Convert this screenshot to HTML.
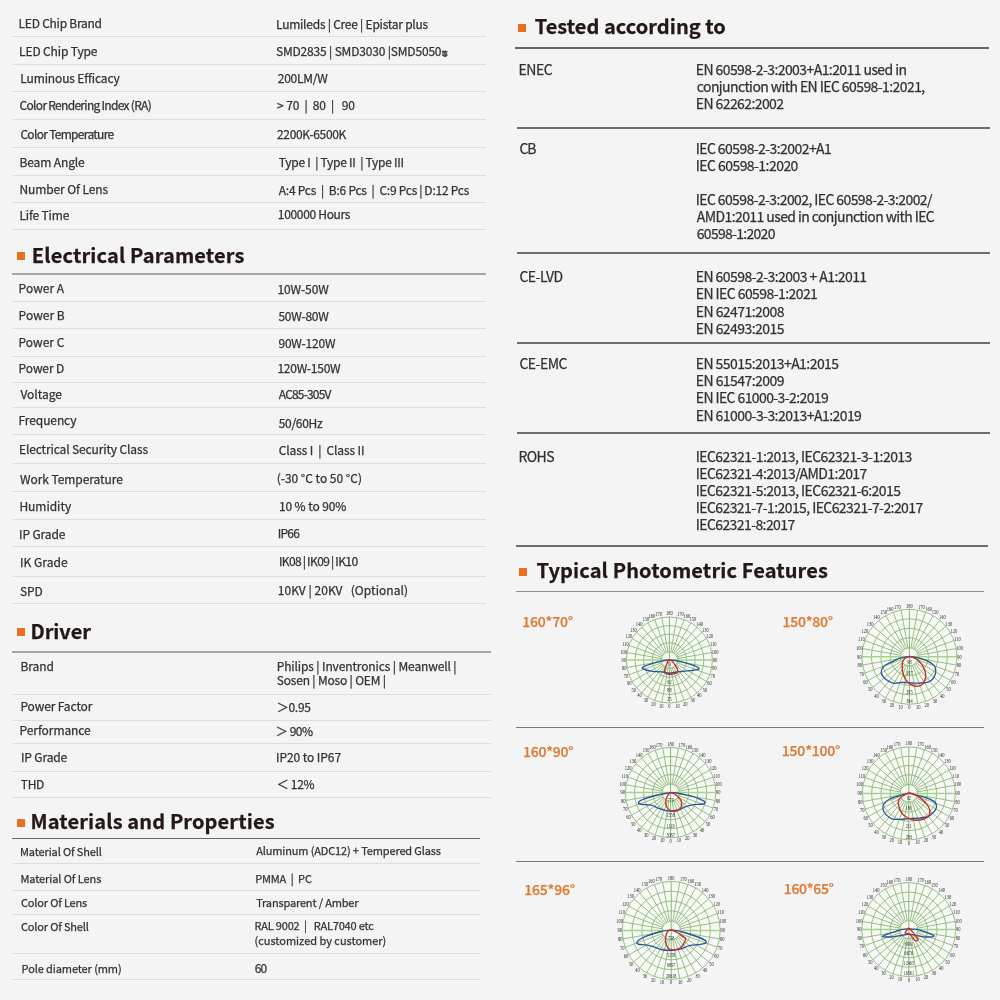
<!DOCTYPE html>
<html><head><meta charset="utf-8"><title>Specifications</title>
<style>
html,body{margin:0;padding:0;background:#f5f4f4;}
#pg{position:relative;width:1000px;height:1000px;overflow:hidden;background:#f5f4f4;font-family:'Noto Sans CJK SC','Liberation Sans',sans-serif;}
.t{position:absolute;white-space:nowrap;line-height:1;-webkit-text-stroke:0.25px currentColor;}
#tx{position:absolute;left:0;top:0;width:1000px;height:1000px;will-change:transform;}
.l{position:absolute;}
.ch{position:absolute;left:0;top:0;}
</style></head><body><div id="pg">
<div class="l" style="left:11.5px;top:35.90px;width:474.5px;height:1px;background:#dedcdc"></div>
<div class="l" style="left:11.5px;top:63.90px;width:474.5px;height:1px;background:#dedcdc"></div>
<div class="l" style="left:11.5px;top:91.30px;width:474.5px;height:1px;background:#dedcdc"></div>
<div class="l" style="left:11.5px;top:118.90px;width:474.5px;height:1px;background:#dedcdc"></div>
<div class="l" style="left:11.5px;top:146.80px;width:474.5px;height:1px;background:#dedcdc"></div>
<div class="l" style="left:11.5px;top:174.60px;width:474.5px;height:1px;background:#dedcdc"></div>
<div class="l" style="left:11.5px;top:202.20px;width:474.5px;height:1px;background:#dedcdc"></div>
<div class="l" style="left:11.5px;top:229.10px;width:474.5px;height:1px;background:#dedcdc"></div>
<div class="l" style="left:11.5px;top:273.00px;width:474.5px;height:2px;background:#a6a5a5"></div>
<div class="l" style="left:11.5px;top:300.60px;width:474.5px;height:1px;background:#dedcdc"></div>
<div class="l" style="left:11.5px;top:328.20px;width:474.5px;height:1px;background:#dedcdc"></div>
<div class="l" style="left:11.5px;top:355.90px;width:474.5px;height:1px;background:#dedcdc"></div>
<div class="l" style="left:11.5px;top:381.60px;width:474.5px;height:1px;background:#dedcdc"></div>
<div class="l" style="left:11.5px;top:407.00px;width:474.5px;height:1px;background:#dedcdc"></div>
<div class="l" style="left:11.5px;top:434.40px;width:474.5px;height:1px;background:#dedcdc"></div>
<div class="l" style="left:11.5px;top:463.20px;width:474.5px;height:1px;background:#dedcdc"></div>
<div class="l" style="left:11.5px;top:491.00px;width:474.5px;height:1px;background:#dedcdc"></div>
<div class="l" style="left:11.5px;top:518.90px;width:474.5px;height:1px;background:#dedcdc"></div>
<div class="l" style="left:11.5px;top:546.20px;width:474.5px;height:1px;background:#dedcdc"></div>
<div class="l" style="left:11.5px;top:576.00px;width:474.5px;height:1px;background:#dedcdc"></div>
<div class="l" style="left:11.5px;top:602.60px;width:474.5px;height:1px;background:#dedcdc"></div>
<div class="l" style="left:12px;top:650.80px;width:479.3px;height:2px;background:#a6a5a5"></div>
<div class="l" style="left:12px;top:694.30px;width:479.3px;height:1px;background:#dedcdc"></div>
<div class="l" style="left:12px;top:719.50px;width:479.3px;height:1px;background:#dedcdc"></div>
<div class="l" style="left:12px;top:743.00px;width:479.3px;height:1px;background:#dedcdc"></div>
<div class="l" style="left:12px;top:770.60px;width:479.3px;height:1px;background:#dedcdc"></div>
<div class="l" style="left:12px;top:796.70px;width:479.3px;height:1px;background:#dedcdc"></div>
<div class="l" style="left:11.5px;top:837.65px;width:468.0px;height:1.5px;background:#6a6868"></div>
<div class="l" style="left:11.5px;top:863.20px;width:468.0px;height:1px;background:#dedcdc"></div>
<div class="l" style="left:11.5px;top:889.80px;width:468.0px;height:1px;background:#dedcdc"></div>
<div class="l" style="left:11.5px;top:913.80px;width:468.0px;height:1px;background:#dedcdc"></div>
<div class="l" style="left:11.5px;top:953.20px;width:468.0px;height:1px;background:#dedcdc"></div>
<div class="l" style="left:11.5px;top:979.30px;width:468.0px;height:1px;background:#dedcdc"></div>
<div class="l" style="left:515px;top:47.00px;width:473.5px;height:2px;background:#6a6868"></div>
<div class="l" style="left:517px;top:126.80px;width:473px;height:2px;background:#6e6c6c"></div>
<div class="l" style="left:517px;top:252.00px;width:473px;height:2px;background:#6e6c6c"></div>
<div class="l" style="left:517px;top:341.80px;width:473px;height:2px;background:#6e6c6c"></div>
<div class="l" style="left:517px;top:431.80px;width:473px;height:2px;background:#6e6c6c"></div>
<div class="l" style="left:515.6px;top:545.00px;width:472.79999999999995px;height:2px;background:#6e6c6c"></div>
<div class="l" style="left:515.8px;top:590.80px;width:468.20000000000005px;height:1.2px;background:#8e8c8c"></div>
<div class="l" style="left:515.8px;top:727.00px;width:468.20000000000005px;height:1.2px;background:#7a7878"></div>
<div class="l" style="left:515.8px;top:860.70px;width:468.20000000000005px;height:1.2px;background:#7a7878"></div>
<div class="l" style="left:17px;top:252px;width:8.2px;height:8.2px;background:#e8701e"></div>
<div class="l" style="left:17px;top:628.2px;width:8.2px;height:8.2px;background:#e8701e"></div>
<div class="l" style="left:17px;top:818.8px;width:8.2px;height:8.2px;background:#e8701e"></div>
<div class="l" style="left:518.2px;top:24.2px;width:8.2px;height:8.2px;background:#e8701e"></div>
<div class="l" style="left:518.7px;top:568.2px;width:8.2px;height:8.2px;background:#e8701e"></div>
<div id="tx">
<svg class="ch" width="1000" height="1000" viewBox="0 0 1000 1000" font-family="'Liberation Serif',serif"><circle cx="669.40" cy="660.00" r="43.00" fill="#f8f8f7"/>
<circle cx="669.40" cy="660.00" r="8.17" fill="none" stroke="#7cb267" stroke-width="0.8"/>
<circle cx="669.40" cy="660.00" r="17.20" fill="none" stroke="#7cb267" stroke-width="0.8"/>
<circle cx="669.40" cy="660.00" r="25.80" fill="none" stroke="#7cb267" stroke-width="0.8"/>
<circle cx="669.40" cy="660.00" r="34.40" fill="none" stroke="#7cb267" stroke-width="0.8"/>
<circle cx="669.40" cy="660.00" r="43.00" fill="none" stroke="#7cb267" stroke-width="0.8"/>
<line x1="670.82" y1="668.05" x2="676.87" y2="702.35" stroke="#7cb267" stroke-width="0.8"/>
<line x1="672.19" y1="667.68" x2="684.11" y2="700.41" stroke="#7cb267" stroke-width="0.8"/>
<line x1="673.49" y1="667.08" x2="690.90" y2="697.24" stroke="#7cb267" stroke-width="0.8"/>
<line x1="674.65" y1="666.26" x2="697.04" y2="692.94" stroke="#7cb267" stroke-width="0.8"/>
<line x1="675.66" y1="665.25" x2="702.34" y2="687.64" stroke="#7cb267" stroke-width="0.8"/>
<line x1="676.48" y1="664.09" x2="706.64" y2="681.50" stroke="#7cb267" stroke-width="0.8"/>
<line x1="677.08" y1="662.79" x2="709.81" y2="674.71" stroke="#7cb267" stroke-width="0.8"/>
<line x1="677.45" y1="661.42" x2="711.75" y2="667.47" stroke="#7cb267" stroke-width="0.8"/>
<line x1="677.45" y1="658.58" x2="711.75" y2="652.53" stroke="#7cb267" stroke-width="0.8"/>
<line x1="677.08" y1="657.21" x2="709.81" y2="645.29" stroke="#7cb267" stroke-width="0.8"/>
<line x1="676.48" y1="655.91" x2="706.64" y2="638.50" stroke="#7cb267" stroke-width="0.8"/>
<line x1="675.66" y1="654.75" x2="702.34" y2="632.36" stroke="#7cb267" stroke-width="0.8"/>
<line x1="674.65" y1="653.74" x2="697.04" y2="627.06" stroke="#7cb267" stroke-width="0.8"/>
<line x1="673.49" y1="652.92" x2="690.90" y2="622.76" stroke="#7cb267" stroke-width="0.8"/>
<line x1="672.19" y1="652.32" x2="684.11" y2="619.59" stroke="#7cb267" stroke-width="0.8"/>
<line x1="670.82" y1="651.95" x2="676.87" y2="617.65" stroke="#7cb267" stroke-width="0.8"/>
<line x1="667.98" y1="651.95" x2="661.93" y2="617.65" stroke="#7cb267" stroke-width="0.8"/>
<line x1="666.61" y1="652.32" x2="654.69" y2="619.59" stroke="#7cb267" stroke-width="0.8"/>
<line x1="665.31" y1="652.92" x2="647.90" y2="622.76" stroke="#7cb267" stroke-width="0.8"/>
<line x1="664.15" y1="653.74" x2="641.76" y2="627.06" stroke="#7cb267" stroke-width="0.8"/>
<line x1="663.14" y1="654.75" x2="636.46" y2="632.36" stroke="#7cb267" stroke-width="0.8"/>
<line x1="662.32" y1="655.91" x2="632.16" y2="638.50" stroke="#7cb267" stroke-width="0.8"/>
<line x1="661.72" y1="657.21" x2="628.99" y2="645.29" stroke="#7cb267" stroke-width="0.8"/>
<line x1="661.35" y1="658.58" x2="627.05" y2="652.53" stroke="#7cb267" stroke-width="0.8"/>
<line x1="661.35" y1="661.42" x2="627.05" y2="667.47" stroke="#7cb267" stroke-width="0.8"/>
<line x1="661.72" y1="662.79" x2="628.99" y2="674.71" stroke="#7cb267" stroke-width="0.8"/>
<line x1="662.32" y1="664.09" x2="632.16" y2="681.50" stroke="#7cb267" stroke-width="0.8"/>
<line x1="663.14" y1="665.25" x2="636.46" y2="687.64" stroke="#7cb267" stroke-width="0.8"/>
<line x1="664.15" y1="666.26" x2="641.76" y2="692.94" stroke="#7cb267" stroke-width="0.8"/>
<line x1="665.31" y1="667.08" x2="647.90" y2="697.24" stroke="#7cb267" stroke-width="0.8"/>
<line x1="666.61" y1="667.68" x2="654.69" y2="700.41" stroke="#7cb267" stroke-width="0.8"/>
<line x1="667.98" y1="668.05" x2="661.93" y2="702.35" stroke="#7cb267" stroke-width="0.8"/>
<line x1="626.40" y1="660.00" x2="712.40" y2="660.00" stroke="#a2d58a" stroke-width="1.5"/>
<line x1="669.40" y1="617.00" x2="669.40" y2="703.00" stroke="#7cb267" stroke-width="0.9"/>
<text transform="translate(669.40,708.05) scale(0.85,1)" font-size="5.3" text-anchor="middle" fill="#2e2e2e">0</text>
<text transform="translate(661.33,707.51) scale(0.85,1)" font-size="5.3" text-anchor="middle" fill="#2e2e2e">10</text>
<text transform="translate(677.47,707.51) scale(0.85,1)" font-size="5.3" text-anchor="middle" fill="#2e2e2e">10</text>
<text transform="translate(653.47,705.51) scale(0.85,1)" font-size="5.3" text-anchor="middle" fill="#2e2e2e">20</text>
<text transform="translate(685.33,705.51) scale(0.85,1)" font-size="5.3" text-anchor="middle" fill="#2e2e2e">20</text>
<text transform="translate(646.10,702.11) scale(0.85,1)" font-size="5.3" text-anchor="middle" fill="#2e2e2e">30</text>
<text transform="translate(692.70,702.11) scale(0.85,1)" font-size="5.3" text-anchor="middle" fill="#2e2e2e">30</text>
<text transform="translate(639.46,697.43) scale(0.85,1)" font-size="5.3" text-anchor="middle" fill="#2e2e2e">40</text>
<text transform="translate(699.34,697.43) scale(0.85,1)" font-size="5.3" text-anchor="middle" fill="#2e2e2e">40</text>
<text transform="translate(633.79,691.63) scale(0.85,1)" font-size="5.3" text-anchor="middle" fill="#2e2e2e">50</text>
<text transform="translate(705.01,691.63) scale(0.85,1)" font-size="5.3" text-anchor="middle" fill="#2e2e2e">50</text>
<text transform="translate(629.28,684.91) scale(0.85,1)" font-size="5.3" text-anchor="middle" fill="#2e2e2e">60</text>
<text transform="translate(709.52,684.91) scale(0.85,1)" font-size="5.3" text-anchor="middle" fill="#2e2e2e">60</text>
<text transform="translate(626.07,677.52) scale(0.85,1)" font-size="5.3" text-anchor="middle" fill="#2e2e2e">70</text>
<text transform="translate(712.73,677.52) scale(0.85,1)" font-size="5.3" text-anchor="middle" fill="#2e2e2e">70</text>
<text transform="translate(624.26,669.71) scale(0.85,1)" font-size="5.3" text-anchor="middle" fill="#2e2e2e">80</text>
<text transform="translate(714.54,669.71) scale(0.85,1)" font-size="5.3" text-anchor="middle" fill="#2e2e2e">80</text>
<text transform="translate(623.87,661.75) scale(0.85,1)" font-size="5.3" text-anchor="middle" fill="#2e2e2e">90</text>
<text transform="translate(714.93,661.75) scale(0.85,1)" font-size="5.3" text-anchor="middle" fill="#2e2e2e">90</text>
<text transform="translate(623.71,653.69) scale(0.85,1)" font-size="5.3" text-anchor="middle" fill="#2e2e2e">100</text>
<text transform="translate(715.09,653.69) scale(0.85,1)" font-size="5.3" text-anchor="middle" fill="#2e2e2e">100</text>
<text transform="translate(625.58,645.80) scale(0.85,1)" font-size="5.3" text-anchor="middle" fill="#2e2e2e">110</text>
<text transform="translate(713.22,645.80) scale(0.85,1)" font-size="5.3" text-anchor="middle" fill="#2e2e2e">110</text>
<text transform="translate(628.86,638.34) scale(0.85,1)" font-size="5.3" text-anchor="middle" fill="#2e2e2e">120</text>
<text transform="translate(709.94,638.34) scale(0.85,1)" font-size="5.3" text-anchor="middle" fill="#2e2e2e">120</text>
<text transform="translate(633.46,631.59) scale(0.85,1)" font-size="5.3" text-anchor="middle" fill="#2e2e2e">130</text>
<text transform="translate(705.34,631.59) scale(0.85,1)" font-size="5.3" text-anchor="middle" fill="#2e2e2e">130</text>
<text transform="translate(639.23,625.79) scale(0.85,1)" font-size="5.3" text-anchor="middle" fill="#2e2e2e">140</text>
<text transform="translate(699.57,625.79) scale(0.85,1)" font-size="5.3" text-anchor="middle" fill="#2e2e2e">140</text>
<text transform="translate(645.95,621.14) scale(0.85,1)" font-size="5.3" text-anchor="middle" fill="#2e2e2e">150</text>
<text transform="translate(692.85,621.14) scale(0.85,1)" font-size="5.3" text-anchor="middle" fill="#2e2e2e">150</text>
<text transform="translate(651.88,618.39) scale(0.85,1)" font-size="5.3" text-anchor="middle" fill="#2e2e2e">160</text>
<text transform="translate(686.92,618.39) scale(0.85,1)" font-size="5.3" text-anchor="middle" fill="#2e2e2e">160</text>
<text transform="translate(658.53,616.47) scale(0.85,1)" font-size="5.3" text-anchor="middle" fill="#2e2e2e">170</text>
<text transform="translate(680.27,616.47) scale(0.85,1)" font-size="5.3" text-anchor="middle" fill="#2e2e2e">170</text>
<text transform="translate(669.40,615.45) scale(0.85,1)" font-size="5.3" text-anchor="middle" fill="#2e2e2e">180</text>
<text transform="translate(669.40,665.59) scale(0.8,1)" font-size="5.3" text-anchor="middle" fill="#2e2e2e">51</text>
<text transform="translate(669.40,683.65) scale(0.8,1)" font-size="5.3" text-anchor="middle" fill="#2e2e2e">62</text>
<text transform="translate(669.40,692.25) scale(0.8,1)" font-size="5.3" text-anchor="middle" fill="#2e2e2e">88</text>
<text transform="translate(669.40,700.85) scale(0.8,1)" font-size="5.3" text-anchor="middle" fill="#2e2e2e">25</text>
<path d="M669.40,660.00 C665.40,660.00 662.50,660.68 658.00,661.92 C653.50,663.16 643.80,665.96 642.40,667.44 C641.00,668.92 646.20,670.04 649.60,670.80 C653.00,671.56 659.50,671.60 662.80,672.00 C666.10,672.40 667.00,673.20 669.40,673.20 C671.80,673.20 673.10,672.50 677.20,672.00 C681.30,671.50 690.44,670.90 694.00,670.20 C697.56,669.50 700.56,669.18 698.56,667.80 C696.56,666.42 686.86,663.22 682.00,661.92 C677.14,660.62 673.40,660.00 669.40,660.00 Z" fill="none" stroke="#2a5496" stroke-width="1.35" stroke-linejoin="round"/>
<path d="M669.40,659.64 C667.90,659.54 667.20,662.74 666.40,664.80 C665.60,666.86 664.40,670.44 664.60,672.00 C664.80,673.56 666.10,673.86 667.60,674.16 C669.10,674.46 671.90,674.16 673.60,673.80 C675.30,673.44 677.50,673.40 677.80,672.00 C678.10,670.60 676.80,667.46 675.40,665.40 C674.00,663.34 670.90,659.74 669.40,659.64 Z" fill="none" stroke="#d02820" stroke-width="1.35" stroke-linejoin="round"/>
<circle cx="670.60" cy="792.60" r="45.20" fill="#f8f8f7"/>
<circle cx="670.60" cy="792.60" r="8.59" fill="none" stroke="#7cb267" stroke-width="0.8"/>
<circle cx="670.60" cy="792.60" r="18.08" fill="none" stroke="#7cb267" stroke-width="0.8"/>
<circle cx="670.60" cy="792.60" r="27.12" fill="none" stroke="#7cb267" stroke-width="0.8"/>
<circle cx="670.60" cy="792.60" r="36.16" fill="none" stroke="#7cb267" stroke-width="0.8"/>
<circle cx="670.60" cy="792.60" r="45.20" fill="none" stroke="#7cb267" stroke-width="0.8"/>
<line x1="672.09" y1="801.06" x2="678.45" y2="837.11" stroke="#7cb267" stroke-width="0.8"/>
<line x1="673.54" y1="800.67" x2="686.06" y2="835.07" stroke="#7cb267" stroke-width="0.8"/>
<line x1="674.89" y1="800.04" x2="693.20" y2="831.74" stroke="#7cb267" stroke-width="0.8"/>
<line x1="676.12" y1="799.18" x2="699.65" y2="827.23" stroke="#7cb267" stroke-width="0.8"/>
<line x1="677.18" y1="798.12" x2="705.23" y2="821.65" stroke="#7cb267" stroke-width="0.8"/>
<line x1="678.04" y1="796.89" x2="709.74" y2="815.20" stroke="#7cb267" stroke-width="0.8"/>
<line x1="678.67" y1="795.54" x2="713.07" y2="808.06" stroke="#7cb267" stroke-width="0.8"/>
<line x1="679.06" y1="794.09" x2="715.11" y2="800.45" stroke="#7cb267" stroke-width="0.8"/>
<line x1="679.06" y1="791.11" x2="715.11" y2="784.75" stroke="#7cb267" stroke-width="0.8"/>
<line x1="678.67" y1="789.66" x2="713.07" y2="777.14" stroke="#7cb267" stroke-width="0.8"/>
<line x1="678.04" y1="788.31" x2="709.74" y2="770.00" stroke="#7cb267" stroke-width="0.8"/>
<line x1="677.18" y1="787.08" x2="705.23" y2="763.55" stroke="#7cb267" stroke-width="0.8"/>
<line x1="676.12" y1="786.02" x2="699.65" y2="757.97" stroke="#7cb267" stroke-width="0.8"/>
<line x1="674.89" y1="785.16" x2="693.20" y2="753.46" stroke="#7cb267" stroke-width="0.8"/>
<line x1="673.54" y1="784.53" x2="686.06" y2="750.13" stroke="#7cb267" stroke-width="0.8"/>
<line x1="672.09" y1="784.14" x2="678.45" y2="748.09" stroke="#7cb267" stroke-width="0.8"/>
<line x1="669.11" y1="784.14" x2="662.75" y2="748.09" stroke="#7cb267" stroke-width="0.8"/>
<line x1="667.66" y1="784.53" x2="655.14" y2="750.13" stroke="#7cb267" stroke-width="0.8"/>
<line x1="666.31" y1="785.16" x2="648.00" y2="753.46" stroke="#7cb267" stroke-width="0.8"/>
<line x1="665.08" y1="786.02" x2="641.55" y2="757.97" stroke="#7cb267" stroke-width="0.8"/>
<line x1="664.02" y1="787.08" x2="635.97" y2="763.55" stroke="#7cb267" stroke-width="0.8"/>
<line x1="663.16" y1="788.31" x2="631.46" y2="770.00" stroke="#7cb267" stroke-width="0.8"/>
<line x1="662.53" y1="789.66" x2="628.13" y2="777.14" stroke="#7cb267" stroke-width="0.8"/>
<line x1="662.14" y1="791.11" x2="626.09" y2="784.75" stroke="#7cb267" stroke-width="0.8"/>
<line x1="662.14" y1="794.09" x2="626.09" y2="800.45" stroke="#7cb267" stroke-width="0.8"/>
<line x1="662.53" y1="795.54" x2="628.13" y2="808.06" stroke="#7cb267" stroke-width="0.8"/>
<line x1="663.16" y1="796.89" x2="631.46" y2="815.20" stroke="#7cb267" stroke-width="0.8"/>
<line x1="664.02" y1="798.12" x2="635.97" y2="821.65" stroke="#7cb267" stroke-width="0.8"/>
<line x1="665.08" y1="799.18" x2="641.55" y2="827.23" stroke="#7cb267" stroke-width="0.8"/>
<line x1="666.31" y1="800.04" x2="648.00" y2="831.74" stroke="#7cb267" stroke-width="0.8"/>
<line x1="667.66" y1="800.67" x2="655.14" y2="835.07" stroke="#7cb267" stroke-width="0.8"/>
<line x1="669.11" y1="801.06" x2="662.75" y2="837.11" stroke="#7cb267" stroke-width="0.8"/>
<line x1="625.40" y1="792.60" x2="715.80" y2="792.60" stroke="#a2d58a" stroke-width="1.5"/>
<line x1="670.60" y1="747.40" x2="670.60" y2="837.80" stroke="#7cb267" stroke-width="0.9"/>
<text transform="translate(670.60,842.85) scale(0.85,1)" font-size="5.3" text-anchor="middle" fill="#2e2e2e">0</text>
<text transform="translate(662.15,842.28) scale(0.85,1)" font-size="5.3" text-anchor="middle" fill="#2e2e2e">10</text>
<text transform="translate(679.05,842.28) scale(0.85,1)" font-size="5.3" text-anchor="middle" fill="#2e2e2e">10</text>
<text transform="translate(653.92,840.18) scale(0.85,1)" font-size="5.3" text-anchor="middle" fill="#2e2e2e">20</text>
<text transform="translate(687.28,840.18) scale(0.85,1)" font-size="5.3" text-anchor="middle" fill="#2e2e2e">20</text>
<text transform="translate(646.20,836.62) scale(0.85,1)" font-size="5.3" text-anchor="middle" fill="#2e2e2e">30</text>
<text transform="translate(695.00,836.62) scale(0.85,1)" font-size="5.3" text-anchor="middle" fill="#2e2e2e">30</text>
<text transform="translate(639.25,831.72) scale(0.85,1)" font-size="5.3" text-anchor="middle" fill="#2e2e2e">40</text>
<text transform="translate(701.95,831.72) scale(0.85,1)" font-size="5.3" text-anchor="middle" fill="#2e2e2e">40</text>
<text transform="translate(633.31,825.64) scale(0.85,1)" font-size="5.3" text-anchor="middle" fill="#2e2e2e">50</text>
<text transform="translate(707.89,825.64) scale(0.85,1)" font-size="5.3" text-anchor="middle" fill="#2e2e2e">50</text>
<text transform="translate(628.58,818.61) scale(0.85,1)" font-size="5.3" text-anchor="middle" fill="#2e2e2e">60</text>
<text transform="translate(712.62,818.61) scale(0.85,1)" font-size="5.3" text-anchor="middle" fill="#2e2e2e">60</text>
<text transform="translate(625.21,810.87) scale(0.85,1)" font-size="5.3" text-anchor="middle" fill="#2e2e2e">70</text>
<text transform="translate(715.99,810.87) scale(0.85,1)" font-size="5.3" text-anchor="middle" fill="#2e2e2e">70</text>
<text transform="translate(623.29,802.69) scale(0.85,1)" font-size="5.3" text-anchor="middle" fill="#2e2e2e">80</text>
<text transform="translate(717.91,802.69) scale(0.85,1)" font-size="5.3" text-anchor="middle" fill="#2e2e2e">80</text>
<text transform="translate(622.87,794.35) scale(0.85,1)" font-size="5.3" text-anchor="middle" fill="#2e2e2e">90</text>
<text transform="translate(718.33,794.35) scale(0.85,1)" font-size="5.3" text-anchor="middle" fill="#2e2e2e">90</text>
<text transform="translate(622.74,785.91) scale(0.85,1)" font-size="5.3" text-anchor="middle" fill="#2e2e2e">100</text>
<text transform="translate(718.46,785.91) scale(0.85,1)" font-size="5.3" text-anchor="middle" fill="#2e2e2e">100</text>
<text transform="translate(624.71,777.65) scale(0.85,1)" font-size="5.3" text-anchor="middle" fill="#2e2e2e">110</text>
<text transform="translate(716.49,777.65) scale(0.85,1)" font-size="5.3" text-anchor="middle" fill="#2e2e2e">110</text>
<text transform="translate(628.15,769.84) scale(0.85,1)" font-size="5.3" text-anchor="middle" fill="#2e2e2e">120</text>
<text transform="translate(713.05,769.84) scale(0.85,1)" font-size="5.3" text-anchor="middle" fill="#2e2e2e">120</text>
<text transform="translate(632.98,762.78) scale(0.85,1)" font-size="5.3" text-anchor="middle" fill="#2e2e2e">130</text>
<text transform="translate(708.22,762.78) scale(0.85,1)" font-size="5.3" text-anchor="middle" fill="#2e2e2e">130</text>
<text transform="translate(639.01,756.70) scale(0.85,1)" font-size="5.3" text-anchor="middle" fill="#2e2e2e">140</text>
<text transform="translate(702.19,756.70) scale(0.85,1)" font-size="5.3" text-anchor="middle" fill="#2e2e2e">140</text>
<text transform="translate(646.05,751.84) scale(0.85,1)" font-size="5.3" text-anchor="middle" fill="#2e2e2e">150</text>
<text transform="translate(695.15,751.84) scale(0.85,1)" font-size="5.3" text-anchor="middle" fill="#2e2e2e">150</text>
<text transform="translate(652.26,748.95) scale(0.85,1)" font-size="5.3" text-anchor="middle" fill="#2e2e2e">160</text>
<text transform="translate(688.94,748.95) scale(0.85,1)" font-size="5.3" text-anchor="middle" fill="#2e2e2e">160</text>
<text transform="translate(659.22,746.93) scale(0.85,1)" font-size="5.3" text-anchor="middle" fill="#2e2e2e">170</text>
<text transform="translate(681.98,746.93) scale(0.85,1)" font-size="5.3" text-anchor="middle" fill="#2e2e2e">170</text>
<text transform="translate(670.60,745.85) scale(0.85,1)" font-size="5.3" text-anchor="middle" fill="#2e2e2e">180</text>
<text transform="translate(670.60,801.64) scale(0.8,1)" font-size="5.3" text-anchor="middle" fill="#2e2e2e">779</text>
<text transform="translate(670.60,817.46) scale(0.8,1)" font-size="5.3" text-anchor="middle" fill="#2e2e2e">1558</text>
<text transform="translate(670.60,827.86) scale(0.8,1)" font-size="5.3" text-anchor="middle" fill="#2e2e2e">1119</text>
<text transform="translate(670.60,836.90) scale(0.8,1)" font-size="5.3" text-anchor="middle" fill="#2e2e2e">3087</text>
<path d="M670.80,792.75 C667.26,793.16 660.03,794.41 655.50,795.47 C650.97,796.53 646.43,797.99 643.60,799.12 C640.77,800.26 638.92,801.42 638.50,802.27 C638.07,803.12 638.92,803.76 641.05,804.22 C643.17,804.69 648.42,804.44 651.25,805.07 C654.08,805.71 655.64,807.13 658.05,808.05 C660.46,808.97 663.57,810.09 665.70,810.60 C667.82,811.11 668.82,811.18 670.80,811.11 C672.78,811.04 675.19,810.90 677.60,810.17 C680.01,809.45 682.84,807.67 685.25,806.77 C687.66,805.88 689.07,805.29 692.05,804.82 C695.02,804.35 701.00,804.48 703.10,803.97 C705.19,803.46 705.48,802.71 704.63,801.76 C703.78,800.81 701.23,799.45 698.00,798.27 C694.77,797.10 688.79,795.58 685.25,794.70 C681.71,793.83 679.16,793.33 676.75,793.00 C674.34,792.68 674.34,792.34 670.80,792.75 Z" fill="none" stroke="#2a5496" stroke-width="1.35" stroke-linejoin="round"/>
<path d="M670.80,792.58 C669.78,792.98 668.25,794.53 667.40,795.98 C666.55,797.42 665.84,799.49 665.70,801.25 C665.56,803.01 665.84,805.02 666.55,806.52 C667.26,808.02 668.67,809.44 669.95,810.26 C671.22,811.08 672.64,811.53 674.20,811.45 C675.76,811.36 678.08,810.74 679.30,809.75 C680.52,808.76 681.23,807.06 681.51,805.50 C681.79,803.94 681.65,801.96 681.00,800.40 C680.35,798.84 678.85,797.28 677.60,796.15 C676.35,795.02 674.65,794.19 673.52,793.60 C672.39,793.00 671.82,792.18 670.80,792.58 Z" fill="none" stroke="#d02820" stroke-width="1.35" stroke-linejoin="round"/>
<circle cx="671.20" cy="930.40" r="49.00" fill="#f8f8f7"/>
<circle cx="671.20" cy="930.40" r="9.31" fill="none" stroke="#7cb267" stroke-width="0.8"/>
<circle cx="671.20" cy="930.40" r="19.60" fill="none" stroke="#7cb267" stroke-width="0.8"/>
<circle cx="671.20" cy="930.40" r="29.40" fill="none" stroke="#7cb267" stroke-width="0.8"/>
<circle cx="671.20" cy="930.40" r="39.20" fill="none" stroke="#7cb267" stroke-width="0.8"/>
<circle cx="671.20" cy="930.40" r="49.00" fill="none" stroke="#7cb267" stroke-width="0.8"/>
<line x1="672.82" y1="939.57" x2="679.71" y2="978.66" stroke="#7cb267" stroke-width="0.8"/>
<line x1="674.38" y1="939.15" x2="687.96" y2="976.44" stroke="#7cb267" stroke-width="0.8"/>
<line x1="675.86" y1="938.46" x2="695.70" y2="972.84" stroke="#7cb267" stroke-width="0.8"/>
<line x1="677.18" y1="937.53" x2="702.70" y2="967.94" stroke="#7cb267" stroke-width="0.8"/>
<line x1="678.33" y1="936.38" x2="708.74" y2="961.90" stroke="#7cb267" stroke-width="0.8"/>
<line x1="679.26" y1="935.05" x2="713.64" y2="954.90" stroke="#7cb267" stroke-width="0.8"/>
<line x1="679.95" y1="933.58" x2="717.24" y2="947.16" stroke="#7cb267" stroke-width="0.8"/>
<line x1="680.37" y1="932.02" x2="719.46" y2="938.91" stroke="#7cb267" stroke-width="0.8"/>
<line x1="680.37" y1="928.78" x2="719.46" y2="921.89" stroke="#7cb267" stroke-width="0.8"/>
<line x1="679.95" y1="927.22" x2="717.24" y2="913.64" stroke="#7cb267" stroke-width="0.8"/>
<line x1="679.26" y1="925.75" x2="713.64" y2="905.90" stroke="#7cb267" stroke-width="0.8"/>
<line x1="678.33" y1="924.42" x2="708.74" y2="898.90" stroke="#7cb267" stroke-width="0.8"/>
<line x1="677.18" y1="923.27" x2="702.70" y2="892.86" stroke="#7cb267" stroke-width="0.8"/>
<line x1="675.86" y1="922.34" x2="695.70" y2="887.96" stroke="#7cb267" stroke-width="0.8"/>
<line x1="674.38" y1="921.65" x2="687.96" y2="884.36" stroke="#7cb267" stroke-width="0.8"/>
<line x1="672.82" y1="921.23" x2="679.71" y2="882.14" stroke="#7cb267" stroke-width="0.8"/>
<line x1="669.58" y1="921.23" x2="662.69" y2="882.14" stroke="#7cb267" stroke-width="0.8"/>
<line x1="668.02" y1="921.65" x2="654.44" y2="884.36" stroke="#7cb267" stroke-width="0.8"/>
<line x1="666.55" y1="922.34" x2="646.70" y2="887.96" stroke="#7cb267" stroke-width="0.8"/>
<line x1="665.22" y1="923.27" x2="639.70" y2="892.86" stroke="#7cb267" stroke-width="0.8"/>
<line x1="664.07" y1="924.42" x2="633.66" y2="898.90" stroke="#7cb267" stroke-width="0.8"/>
<line x1="663.14" y1="925.75" x2="628.76" y2="905.90" stroke="#7cb267" stroke-width="0.8"/>
<line x1="662.45" y1="927.22" x2="625.16" y2="913.64" stroke="#7cb267" stroke-width="0.8"/>
<line x1="662.03" y1="928.78" x2="622.94" y2="921.89" stroke="#7cb267" stroke-width="0.8"/>
<line x1="662.03" y1="932.02" x2="622.94" y2="938.91" stroke="#7cb267" stroke-width="0.8"/>
<line x1="662.45" y1="933.58" x2="625.16" y2="947.16" stroke="#7cb267" stroke-width="0.8"/>
<line x1="663.14" y1="935.05" x2="628.76" y2="954.90" stroke="#7cb267" stroke-width="0.8"/>
<line x1="664.07" y1="936.38" x2="633.66" y2="961.90" stroke="#7cb267" stroke-width="0.8"/>
<line x1="665.22" y1="937.53" x2="639.70" y2="967.94" stroke="#7cb267" stroke-width="0.8"/>
<line x1="666.55" y1="938.46" x2="646.70" y2="972.84" stroke="#7cb267" stroke-width="0.8"/>
<line x1="668.02" y1="939.15" x2="654.44" y2="976.44" stroke="#7cb267" stroke-width="0.8"/>
<line x1="669.58" y1="939.57" x2="662.69" y2="978.66" stroke="#7cb267" stroke-width="0.8"/>
<line x1="622.20" y1="930.40" x2="720.20" y2="930.40" stroke="#a2d58a" stroke-width="1.5"/>
<line x1="671.20" y1="881.40" x2="671.20" y2="979.40" stroke="#7cb267" stroke-width="0.9"/>
<text transform="translate(671.20,984.45) scale(0.85,1)" font-size="5.3" text-anchor="middle" fill="#2e2e2e">0</text>
<text transform="translate(662.09,983.82) scale(0.85,1)" font-size="5.3" text-anchor="middle" fill="#2e2e2e">10</text>
<text transform="translate(680.31,983.82) scale(0.85,1)" font-size="5.3" text-anchor="middle" fill="#2e2e2e">10</text>
<text transform="translate(653.22,981.55) scale(0.85,1)" font-size="5.3" text-anchor="middle" fill="#2e2e2e">20</text>
<text transform="translate(689.18,981.55) scale(0.85,1)" font-size="5.3" text-anchor="middle" fill="#2e2e2e">20</text>
<text transform="translate(644.90,977.71) scale(0.85,1)" font-size="5.3" text-anchor="middle" fill="#2e2e2e">30</text>
<text transform="translate(697.50,977.71) scale(0.85,1)" font-size="5.3" text-anchor="middle" fill="#2e2e2e">30</text>
<text transform="translate(637.40,972.43) scale(0.85,1)" font-size="5.3" text-anchor="middle" fill="#2e2e2e">40</text>
<text transform="translate(705.00,972.43) scale(0.85,1)" font-size="5.3" text-anchor="middle" fill="#2e2e2e">40</text>
<text transform="translate(630.99,965.89) scale(0.85,1)" font-size="5.3" text-anchor="middle" fill="#2e2e2e">50</text>
<text transform="translate(711.41,965.89) scale(0.85,1)" font-size="5.3" text-anchor="middle" fill="#2e2e2e">50</text>
<text transform="translate(625.88,958.31) scale(0.85,1)" font-size="5.3" text-anchor="middle" fill="#2e2e2e">60</text>
<text transform="translate(716.52,958.31) scale(0.85,1)" font-size="5.3" text-anchor="middle" fill="#2e2e2e">60</text>
<text transform="translate(622.23,949.97) scale(0.85,1)" font-size="5.3" text-anchor="middle" fill="#2e2e2e">70</text>
<text transform="translate(720.17,949.97) scale(0.85,1)" font-size="5.3" text-anchor="middle" fill="#2e2e2e">70</text>
<text transform="translate(620.15,941.15) scale(0.85,1)" font-size="5.3" text-anchor="middle" fill="#2e2e2e">80</text>
<text transform="translate(722.25,941.15) scale(0.85,1)" font-size="5.3" text-anchor="middle" fill="#2e2e2e">80</text>
<text transform="translate(619.67,932.15) scale(0.85,1)" font-size="5.3" text-anchor="middle" fill="#2e2e2e">90</text>
<text transform="translate(722.73,932.15) scale(0.85,1)" font-size="5.3" text-anchor="middle" fill="#2e2e2e">90</text>
<text transform="translate(619.60,923.05) scale(0.85,1)" font-size="5.3" text-anchor="middle" fill="#2e2e2e">100</text>
<text transform="translate(722.80,923.05) scale(0.85,1)" font-size="5.3" text-anchor="middle" fill="#2e2e2e">100</text>
<text transform="translate(621.74,914.15) scale(0.85,1)" font-size="5.3" text-anchor="middle" fill="#2e2e2e">110</text>
<text transform="translate(720.66,914.15) scale(0.85,1)" font-size="5.3" text-anchor="middle" fill="#2e2e2e">110</text>
<text transform="translate(625.46,905.74) scale(0.85,1)" font-size="5.3" text-anchor="middle" fill="#2e2e2e">120</text>
<text transform="translate(716.94,905.74) scale(0.85,1)" font-size="5.3" text-anchor="middle" fill="#2e2e2e">120</text>
<text transform="translate(630.66,898.14) scale(0.85,1)" font-size="5.3" text-anchor="middle" fill="#2e2e2e">130</text>
<text transform="translate(711.74,898.14) scale(0.85,1)" font-size="5.3" text-anchor="middle" fill="#2e2e2e">130</text>
<text transform="translate(637.17,891.59) scale(0.85,1)" font-size="5.3" text-anchor="middle" fill="#2e2e2e">140</text>
<text transform="translate(705.23,891.59) scale(0.85,1)" font-size="5.3" text-anchor="middle" fill="#2e2e2e">140</text>
<text transform="translate(644.75,886.34) scale(0.85,1)" font-size="5.3" text-anchor="middle" fill="#2e2e2e">150</text>
<text transform="translate(697.65,886.34) scale(0.85,1)" font-size="5.3" text-anchor="middle" fill="#2e2e2e">150</text>
<text transform="translate(651.43,883.23) scale(0.85,1)" font-size="5.3" text-anchor="middle" fill="#2e2e2e">160</text>
<text transform="translate(690.97,883.23) scale(0.85,1)" font-size="5.3" text-anchor="middle" fill="#2e2e2e">160</text>
<text transform="translate(658.93,881.04) scale(0.85,1)" font-size="5.3" text-anchor="middle" fill="#2e2e2e">170</text>
<text transform="translate(683.47,881.04) scale(0.85,1)" font-size="5.3" text-anchor="middle" fill="#2e2e2e">170</text>
<text transform="translate(671.20,879.85) scale(0.85,1)" font-size="5.3" text-anchor="middle" fill="#2e2e2e">180</text>
<text transform="translate(671.20,940.20) scale(0.8,1)" font-size="5.3" text-anchor="middle" fill="#2e2e2e">708</text>
<text transform="translate(671.20,957.35) scale(0.8,1)" font-size="5.3" text-anchor="middle" fill="#2e2e2e">5158</text>
<text transform="translate(671.20,967.15) scale(0.8,1)" font-size="5.3" text-anchor="middle" fill="#2e2e2e">6897</text>
<text transform="translate(671.20,977.93) scale(0.8,1)" font-size="5.3" text-anchor="middle" fill="#2e2e2e">20618</text>
<path d="M670.80,930.20 C667.97,930.40 663.72,930.77 659.75,931.73 C655.78,932.69 650.54,934.56 647.00,935.98 C643.46,937.40 640.20,939.10 638.50,940.23 C636.80,941.36 636.80,942.11 636.80,942.78 C636.80,943.45 636.80,943.84 638.50,944.22 C640.20,944.61 644.31,944.58 647.00,945.07 C649.69,945.57 652.10,946.42 654.65,947.20 C657.20,947.98 660.03,949.21 662.30,949.75 C664.57,950.29 666.27,950.36 668.25,950.43 C670.23,950.50 672.07,950.43 674.20,950.17 C676.32,949.92 678.45,949.65 681.00,948.90 C683.55,948.15 686.67,946.38 689.50,945.67 C692.33,944.96 695.45,945.02 698.00,944.65 C700.55,944.28 703.49,944.08 704.80,943.46 C706.10,942.84 706.95,941.99 705.82,940.91 C704.68,939.83 701.43,938.36 698.00,937.00 C694.57,935.64 688.79,933.83 685.25,932.75 C681.71,931.67 679.16,930.96 676.75,930.54 C674.34,930.11 673.63,930.00 670.80,930.20 Z" fill="none" stroke="#2a5496" stroke-width="1.35" stroke-linejoin="round"/>
<path d="M670.80,929.69 C669.81,929.92 668.25,930.68 667.40,931.90 C666.55,933.12 665.98,935.27 665.70,937.00 C665.42,938.73 665.42,940.57 665.70,942.27 C665.98,943.97 666.66,946.01 667.40,947.20 C668.14,948.39 668.84,948.96 670.12,949.41 C671.39,949.86 673.38,950.15 675.05,949.92 C676.72,949.69 678.73,949.07 680.15,948.05 C681.57,947.03 682.63,945.33 683.55,943.80 C684.47,942.27 685.82,940.14 685.67,938.87 C685.53,937.59 684.04,937.17 682.70,936.15 C681.35,935.13 679.16,933.68 677.60,932.75 C676.04,931.81 674.48,931.05 673.35,930.54 C672.22,930.03 671.79,929.46 670.80,929.69 Z" fill="none" stroke="#d02820" stroke-width="1.35" stroke-linejoin="round"/>
<circle cx="909.40" cy="656.80" r="47.50" fill="#f8f8f7"/>
<circle cx="909.40" cy="656.80" r="9.03" fill="none" stroke="#7cb267" stroke-width="0.8"/>
<circle cx="909.40" cy="656.80" r="19.00" fill="none" stroke="#7cb267" stroke-width="0.8"/>
<circle cx="909.40" cy="656.80" r="28.50" fill="none" stroke="#7cb267" stroke-width="0.8"/>
<circle cx="909.40" cy="656.80" r="38.00" fill="none" stroke="#7cb267" stroke-width="0.8"/>
<circle cx="909.40" cy="656.80" r="47.50" fill="none" stroke="#7cb267" stroke-width="0.8"/>
<line x1="910.97" y1="665.69" x2="917.65" y2="703.58" stroke="#7cb267" stroke-width="0.8"/>
<line x1="912.49" y1="665.28" x2="925.65" y2="701.44" stroke="#7cb267" stroke-width="0.8"/>
<line x1="913.91" y1="664.62" x2="933.15" y2="697.94" stroke="#7cb267" stroke-width="0.8"/>
<line x1="915.20" y1="663.71" x2="939.93" y2="693.19" stroke="#7cb267" stroke-width="0.8"/>
<line x1="916.31" y1="662.60" x2="945.79" y2="687.33" stroke="#7cb267" stroke-width="0.8"/>
<line x1="917.22" y1="661.31" x2="950.54" y2="680.55" stroke="#7cb267" stroke-width="0.8"/>
<line x1="917.88" y1="659.89" x2="954.04" y2="673.05" stroke="#7cb267" stroke-width="0.8"/>
<line x1="918.29" y1="658.37" x2="956.18" y2="665.05" stroke="#7cb267" stroke-width="0.8"/>
<line x1="918.29" y1="655.23" x2="956.18" y2="648.55" stroke="#7cb267" stroke-width="0.8"/>
<line x1="917.88" y1="653.71" x2="954.04" y2="640.55" stroke="#7cb267" stroke-width="0.8"/>
<line x1="917.22" y1="652.29" x2="950.54" y2="633.05" stroke="#7cb267" stroke-width="0.8"/>
<line x1="916.31" y1="651.00" x2="945.79" y2="626.27" stroke="#7cb267" stroke-width="0.8"/>
<line x1="915.20" y1="649.89" x2="939.93" y2="620.41" stroke="#7cb267" stroke-width="0.8"/>
<line x1="913.91" y1="648.98" x2="933.15" y2="615.66" stroke="#7cb267" stroke-width="0.8"/>
<line x1="912.49" y1="648.32" x2="925.65" y2="612.16" stroke="#7cb267" stroke-width="0.8"/>
<line x1="910.97" y1="647.91" x2="917.65" y2="610.02" stroke="#7cb267" stroke-width="0.8"/>
<line x1="907.83" y1="647.91" x2="901.15" y2="610.02" stroke="#7cb267" stroke-width="0.8"/>
<line x1="906.31" y1="648.32" x2="893.15" y2="612.16" stroke="#7cb267" stroke-width="0.8"/>
<line x1="904.89" y1="648.98" x2="885.65" y2="615.66" stroke="#7cb267" stroke-width="0.8"/>
<line x1="903.60" y1="649.89" x2="878.87" y2="620.41" stroke="#7cb267" stroke-width="0.8"/>
<line x1="902.49" y1="651.00" x2="873.01" y2="626.27" stroke="#7cb267" stroke-width="0.8"/>
<line x1="901.58" y1="652.29" x2="868.26" y2="633.05" stroke="#7cb267" stroke-width="0.8"/>
<line x1="900.92" y1="653.71" x2="864.76" y2="640.55" stroke="#7cb267" stroke-width="0.8"/>
<line x1="900.51" y1="655.23" x2="862.62" y2="648.55" stroke="#7cb267" stroke-width="0.8"/>
<line x1="900.51" y1="658.37" x2="862.62" y2="665.05" stroke="#7cb267" stroke-width="0.8"/>
<line x1="900.92" y1="659.89" x2="864.76" y2="673.05" stroke="#7cb267" stroke-width="0.8"/>
<line x1="901.58" y1="661.31" x2="868.26" y2="680.55" stroke="#7cb267" stroke-width="0.8"/>
<line x1="902.49" y1="662.60" x2="873.01" y2="687.33" stroke="#7cb267" stroke-width="0.8"/>
<line x1="903.60" y1="663.71" x2="878.87" y2="693.19" stroke="#7cb267" stroke-width="0.8"/>
<line x1="904.89" y1="664.62" x2="885.65" y2="697.94" stroke="#7cb267" stroke-width="0.8"/>
<line x1="906.31" y1="665.28" x2="893.15" y2="701.44" stroke="#7cb267" stroke-width="0.8"/>
<line x1="907.83" y1="665.69" x2="901.15" y2="703.58" stroke="#7cb267" stroke-width="0.8"/>
<line x1="861.90" y1="656.80" x2="956.90" y2="656.80" stroke="#a2d58a" stroke-width="1.5"/>
<line x1="909.40" y1="609.30" x2="909.40" y2="704.30" stroke="#7cb267" stroke-width="0.9"/>
<text transform="translate(909.40,709.35) scale(0.85,1)" font-size="5.3" text-anchor="middle" fill="#2e2e2e">0</text>
<text transform="translate(900.55,708.74) scale(0.85,1)" font-size="5.3" text-anchor="middle" fill="#2e2e2e">10</text>
<text transform="translate(918.25,708.74) scale(0.85,1)" font-size="5.3" text-anchor="middle" fill="#2e2e2e">10</text>
<text transform="translate(891.93,706.54) scale(0.85,1)" font-size="5.3" text-anchor="middle" fill="#2e2e2e">20</text>
<text transform="translate(926.87,706.54) scale(0.85,1)" font-size="5.3" text-anchor="middle" fill="#2e2e2e">20</text>
<text transform="translate(883.85,702.81) scale(0.85,1)" font-size="5.3" text-anchor="middle" fill="#2e2e2e">30</text>
<text transform="translate(934.95,702.81) scale(0.85,1)" font-size="5.3" text-anchor="middle" fill="#2e2e2e">30</text>
<text transform="translate(876.57,697.68) scale(0.85,1)" font-size="5.3" text-anchor="middle" fill="#2e2e2e">40</text>
<text transform="translate(942.23,697.68) scale(0.85,1)" font-size="5.3" text-anchor="middle" fill="#2e2e2e">40</text>
<text transform="translate(870.34,691.32) scale(0.85,1)" font-size="5.3" text-anchor="middle" fill="#2e2e2e">50</text>
<text transform="translate(948.46,691.32) scale(0.85,1)" font-size="5.3" text-anchor="middle" fill="#2e2e2e">50</text>
<text transform="translate(865.38,683.96) scale(0.85,1)" font-size="5.3" text-anchor="middle" fill="#2e2e2e">60</text>
<text transform="translate(953.42,683.96) scale(0.85,1)" font-size="5.3" text-anchor="middle" fill="#2e2e2e">60</text>
<text transform="translate(861.84,675.86) scale(0.85,1)" font-size="5.3" text-anchor="middle" fill="#2e2e2e">70</text>
<text transform="translate(956.96,675.86) scale(0.85,1)" font-size="5.3" text-anchor="middle" fill="#2e2e2e">70</text>
<text transform="translate(859.83,667.29) scale(0.85,1)" font-size="5.3" text-anchor="middle" fill="#2e2e2e">80</text>
<text transform="translate(958.97,667.29) scale(0.85,1)" font-size="5.3" text-anchor="middle" fill="#2e2e2e">80</text>
<text transform="translate(859.37,658.55) scale(0.85,1)" font-size="5.3" text-anchor="middle" fill="#2e2e2e">90</text>
<text transform="translate(959.43,658.55) scale(0.85,1)" font-size="5.3" text-anchor="middle" fill="#2e2e2e">90</text>
<text transform="translate(859.28,649.71) scale(0.85,1)" font-size="5.3" text-anchor="middle" fill="#2e2e2e">100</text>
<text transform="translate(959.52,649.71) scale(0.85,1)" font-size="5.3" text-anchor="middle" fill="#2e2e2e">100</text>
<text transform="translate(861.35,641.06) scale(0.85,1)" font-size="5.3" text-anchor="middle" fill="#2e2e2e">110</text>
<text transform="translate(957.45,641.06) scale(0.85,1)" font-size="5.3" text-anchor="middle" fill="#2e2e2e">110</text>
<text transform="translate(864.96,632.89) scale(0.85,1)" font-size="5.3" text-anchor="middle" fill="#2e2e2e">120</text>
<text transform="translate(953.84,632.89) scale(0.85,1)" font-size="5.3" text-anchor="middle" fill="#2e2e2e">120</text>
<text transform="translate(870.01,625.50) scale(0.85,1)" font-size="5.3" text-anchor="middle" fill="#2e2e2e">130</text>
<text transform="translate(948.79,625.50) scale(0.85,1)" font-size="5.3" text-anchor="middle" fill="#2e2e2e">130</text>
<text transform="translate(876.33,619.14) scale(0.85,1)" font-size="5.3" text-anchor="middle" fill="#2e2e2e">140</text>
<text transform="translate(942.47,619.14) scale(0.85,1)" font-size="5.3" text-anchor="middle" fill="#2e2e2e">140</text>
<text transform="translate(883.70,614.04) scale(0.85,1)" font-size="5.3" text-anchor="middle" fill="#2e2e2e">150</text>
<text transform="translate(935.10,614.04) scale(0.85,1)" font-size="5.3" text-anchor="middle" fill="#2e2e2e">150</text>
<text transform="translate(890.20,611.02) scale(0.85,1)" font-size="5.3" text-anchor="middle" fill="#2e2e2e">160</text>
<text transform="translate(928.60,611.02) scale(0.85,1)" font-size="5.3" text-anchor="middle" fill="#2e2e2e">160</text>
<text transform="translate(897.48,608.90) scale(0.85,1)" font-size="5.3" text-anchor="middle" fill="#2e2e2e">170</text>
<text transform="translate(921.32,608.90) scale(0.85,1)" font-size="5.3" text-anchor="middle" fill="#2e2e2e">170</text>
<text transform="translate(909.40,607.75) scale(0.85,1)" font-size="5.3" text-anchor="middle" fill="#2e2e2e">180</text>
<text transform="translate(909.40,664.40) scale(0.8,1)" font-size="5.3" text-anchor="middle" fill="#2e2e2e">98</text>
<text transform="translate(909.40,674.85) scale(0.8,1)" font-size="5.3" text-anchor="middle" fill="#2e2e2e">197</text>
<text transform="translate(909.40,693.85) scale(0.8,1)" font-size="5.3" text-anchor="middle" fill="#2e2e2e">295</text>
<text transform="translate(909.40,702.88) scale(0.8,1)" font-size="5.3" text-anchor="middle" fill="#2e2e2e">394</text>
<path d="M909.40,656.76 C906.60,656.86 903.50,657.26 900.40,658.20 C897.30,659.14 893.60,661.00 890.80,662.40 C888.00,663.80 885.20,664.90 883.60,666.60 C882.00,668.30 881.00,670.60 881.20,672.60 C881.40,674.60 882.80,676.84 884.80,678.60 C886.80,680.36 890.40,682.52 893.20,683.16 C896.00,683.80 898.90,682.50 901.60,682.44 C904.30,682.38 906.80,682.68 909.40,682.80 C912.00,682.92 914.10,683.26 917.20,683.16 C920.30,683.06 925.20,683.16 928.00,682.20 C930.80,681.24 932.70,679.40 934.00,677.40 C935.30,675.40 935.80,672.20 935.80,670.20 C935.80,668.20 935.50,667.00 934.00,665.40 C932.50,663.80 929.60,661.90 926.80,660.60 C924.00,659.30 920.10,658.24 917.20,657.60 C914.30,656.96 912.20,656.66 909.40,656.76 Z" fill="none" stroke="#2a5496" stroke-width="1.35" stroke-linejoin="round"/>
<path d="M909.40,656.40 C907.70,656.80 904.60,658.50 903.40,660.00 C902.20,661.50 902.30,663.30 902.20,665.40 C902.10,667.50 902.20,670.20 902.80,672.60 C903.40,675.00 904.40,677.80 905.80,679.80 C907.20,681.80 909.30,683.50 911.20,684.60 C913.10,685.70 915.40,686.40 917.20,686.40 C919.00,686.40 920.70,685.70 922.00,684.60 C923.30,683.50 924.40,681.60 925.00,679.80 C925.60,678.00 925.90,676.00 925.60,673.80 C925.30,671.60 924.40,668.80 923.20,666.60 C922.00,664.40 920.00,662.10 918.40,660.60 C916.80,659.10 915.10,658.30 913.60,657.60 C912.10,656.90 911.10,656.00 909.40,656.40 Z" fill="none" stroke="#d02820" stroke-width="1.35" stroke-linejoin="round"/>
<circle cx="908.80" cy="793.40" r="46.50" fill="#f8f8f7"/>
<circle cx="908.80" cy="793.40" r="8.84" fill="none" stroke="#7cb267" stroke-width="0.8"/>
<circle cx="908.80" cy="793.40" r="18.60" fill="none" stroke="#7cb267" stroke-width="0.8"/>
<circle cx="908.80" cy="793.40" r="27.90" fill="none" stroke="#7cb267" stroke-width="0.8"/>
<circle cx="908.80" cy="793.40" r="37.20" fill="none" stroke="#7cb267" stroke-width="0.8"/>
<circle cx="908.80" cy="793.40" r="46.50" fill="none" stroke="#7cb267" stroke-width="0.8"/>
<line x1="910.33" y1="802.10" x2="916.87" y2="839.19" stroke="#7cb267" stroke-width="0.8"/>
<line x1="911.82" y1="801.70" x2="924.70" y2="837.10" stroke="#7cb267" stroke-width="0.8"/>
<line x1="913.22" y1="801.05" x2="932.05" y2="833.67" stroke="#7cb267" stroke-width="0.8"/>
<line x1="914.48" y1="800.17" x2="938.69" y2="829.02" stroke="#7cb267" stroke-width="0.8"/>
<line x1="915.57" y1="799.08" x2="944.42" y2="823.29" stroke="#7cb267" stroke-width="0.8"/>
<line x1="916.45" y1="797.82" x2="949.07" y2="816.65" stroke="#7cb267" stroke-width="0.8"/>
<line x1="917.10" y1="796.42" x2="952.50" y2="809.30" stroke="#7cb267" stroke-width="0.8"/>
<line x1="917.50" y1="794.93" x2="954.59" y2="801.47" stroke="#7cb267" stroke-width="0.8"/>
<line x1="917.50" y1="791.87" x2="954.59" y2="785.33" stroke="#7cb267" stroke-width="0.8"/>
<line x1="917.10" y1="790.38" x2="952.50" y2="777.50" stroke="#7cb267" stroke-width="0.8"/>
<line x1="916.45" y1="788.98" x2="949.07" y2="770.15" stroke="#7cb267" stroke-width="0.8"/>
<line x1="915.57" y1="787.72" x2="944.42" y2="763.51" stroke="#7cb267" stroke-width="0.8"/>
<line x1="914.48" y1="786.63" x2="938.69" y2="757.78" stroke="#7cb267" stroke-width="0.8"/>
<line x1="913.22" y1="785.75" x2="932.05" y2="753.13" stroke="#7cb267" stroke-width="0.8"/>
<line x1="911.82" y1="785.10" x2="924.70" y2="749.70" stroke="#7cb267" stroke-width="0.8"/>
<line x1="910.33" y1="784.70" x2="916.87" y2="747.61" stroke="#7cb267" stroke-width="0.8"/>
<line x1="907.27" y1="784.70" x2="900.73" y2="747.61" stroke="#7cb267" stroke-width="0.8"/>
<line x1="905.78" y1="785.10" x2="892.90" y2="749.70" stroke="#7cb267" stroke-width="0.8"/>
<line x1="904.38" y1="785.75" x2="885.55" y2="753.13" stroke="#7cb267" stroke-width="0.8"/>
<line x1="903.12" y1="786.63" x2="878.91" y2="757.78" stroke="#7cb267" stroke-width="0.8"/>
<line x1="902.03" y1="787.72" x2="873.18" y2="763.51" stroke="#7cb267" stroke-width="0.8"/>
<line x1="901.15" y1="788.98" x2="868.53" y2="770.15" stroke="#7cb267" stroke-width="0.8"/>
<line x1="900.50" y1="790.38" x2="865.10" y2="777.50" stroke="#7cb267" stroke-width="0.8"/>
<line x1="900.10" y1="791.87" x2="863.01" y2="785.33" stroke="#7cb267" stroke-width="0.8"/>
<line x1="900.10" y1="794.93" x2="863.01" y2="801.47" stroke="#7cb267" stroke-width="0.8"/>
<line x1="900.50" y1="796.42" x2="865.10" y2="809.30" stroke="#7cb267" stroke-width="0.8"/>
<line x1="901.15" y1="797.82" x2="868.53" y2="816.65" stroke="#7cb267" stroke-width="0.8"/>
<line x1="902.03" y1="799.08" x2="873.18" y2="823.29" stroke="#7cb267" stroke-width="0.8"/>
<line x1="903.12" y1="800.17" x2="878.91" y2="829.02" stroke="#7cb267" stroke-width="0.8"/>
<line x1="904.38" y1="801.05" x2="885.55" y2="833.67" stroke="#7cb267" stroke-width="0.8"/>
<line x1="905.78" y1="801.70" x2="892.90" y2="837.10" stroke="#7cb267" stroke-width="0.8"/>
<line x1="907.27" y1="802.10" x2="900.73" y2="839.19" stroke="#7cb267" stroke-width="0.8"/>
<line x1="862.30" y1="793.40" x2="955.30" y2="793.40" stroke="#a2d58a" stroke-width="1.5"/>
<line x1="908.80" y1="746.90" x2="908.80" y2="839.90" stroke="#7cb267" stroke-width="0.9"/>
<text transform="translate(908.80,844.95) scale(0.85,1)" font-size="5.3" text-anchor="middle" fill="#2e2e2e">0</text>
<text transform="translate(900.12,844.36) scale(0.85,1)" font-size="5.3" text-anchor="middle" fill="#2e2e2e">10</text>
<text transform="translate(917.48,844.36) scale(0.85,1)" font-size="5.3" text-anchor="middle" fill="#2e2e2e">10</text>
<text transform="translate(891.67,842.20) scale(0.85,1)" font-size="5.3" text-anchor="middle" fill="#2e2e2e">20</text>
<text transform="translate(925.93,842.20) scale(0.85,1)" font-size="5.3" text-anchor="middle" fill="#2e2e2e">20</text>
<text transform="translate(883.75,838.54) scale(0.85,1)" font-size="5.3" text-anchor="middle" fill="#2e2e2e">30</text>
<text transform="translate(933.85,838.54) scale(0.85,1)" font-size="5.3" text-anchor="middle" fill="#2e2e2e">30</text>
<text transform="translate(876.61,833.51) scale(0.85,1)" font-size="5.3" text-anchor="middle" fill="#2e2e2e">40</text>
<text transform="translate(940.99,833.51) scale(0.85,1)" font-size="5.3" text-anchor="middle" fill="#2e2e2e">40</text>
<text transform="translate(870.51,827.28) scale(0.85,1)" font-size="5.3" text-anchor="middle" fill="#2e2e2e">50</text>
<text transform="translate(947.09,827.28) scale(0.85,1)" font-size="5.3" text-anchor="middle" fill="#2e2e2e">50</text>
<text transform="translate(865.65,820.06) scale(0.85,1)" font-size="5.3" text-anchor="middle" fill="#2e2e2e">60</text>
<text transform="translate(951.95,820.06) scale(0.85,1)" font-size="5.3" text-anchor="middle" fill="#2e2e2e">60</text>
<text transform="translate(862.18,812.12) scale(0.85,1)" font-size="5.3" text-anchor="middle" fill="#2e2e2e">70</text>
<text transform="translate(955.42,812.12) scale(0.85,1)" font-size="5.3" text-anchor="middle" fill="#2e2e2e">70</text>
<text transform="translate(860.21,803.72) scale(0.85,1)" font-size="5.3" text-anchor="middle" fill="#2e2e2e">80</text>
<text transform="translate(957.39,803.72) scale(0.85,1)" font-size="5.3" text-anchor="middle" fill="#2e2e2e">80</text>
<text transform="translate(859.77,795.15) scale(0.85,1)" font-size="5.3" text-anchor="middle" fill="#2e2e2e">90</text>
<text transform="translate(957.83,795.15) scale(0.85,1)" font-size="5.3" text-anchor="middle" fill="#2e2e2e">90</text>
<text transform="translate(859.66,786.49) scale(0.85,1)" font-size="5.3" text-anchor="middle" fill="#2e2e2e">100</text>
<text transform="translate(957.94,786.49) scale(0.85,1)" font-size="5.3" text-anchor="middle" fill="#2e2e2e">100</text>
<text transform="translate(861.69,778.00) scale(0.85,1)" font-size="5.3" text-anchor="middle" fill="#2e2e2e">110</text>
<text transform="translate(955.91,778.00) scale(0.85,1)" font-size="5.3" text-anchor="middle" fill="#2e2e2e">110</text>
<text transform="translate(865.23,769.99) scale(0.85,1)" font-size="5.3" text-anchor="middle" fill="#2e2e2e">120</text>
<text transform="translate(952.37,769.99) scale(0.85,1)" font-size="5.3" text-anchor="middle" fill="#2e2e2e">120</text>
<text transform="translate(870.18,762.74) scale(0.85,1)" font-size="5.3" text-anchor="middle" fill="#2e2e2e">130</text>
<text transform="translate(947.42,762.74) scale(0.85,1)" font-size="5.3" text-anchor="middle" fill="#2e2e2e">130</text>
<text transform="translate(876.38,756.51) scale(0.85,1)" font-size="5.3" text-anchor="middle" fill="#2e2e2e">140</text>
<text transform="translate(941.22,756.51) scale(0.85,1)" font-size="5.3" text-anchor="middle" fill="#2e2e2e">140</text>
<text transform="translate(883.60,751.51) scale(0.85,1)" font-size="5.3" text-anchor="middle" fill="#2e2e2e">150</text>
<text transform="translate(934.00,751.51) scale(0.85,1)" font-size="5.3" text-anchor="middle" fill="#2e2e2e">150</text>
<text transform="translate(889.97,748.55) scale(0.85,1)" font-size="5.3" text-anchor="middle" fill="#2e2e2e">160</text>
<text transform="translate(927.63,748.55) scale(0.85,1)" font-size="5.3" text-anchor="middle" fill="#2e2e2e">160</text>
<text transform="translate(897.11,746.47) scale(0.85,1)" font-size="5.3" text-anchor="middle" fill="#2e2e2e">170</text>
<text transform="translate(920.49,746.47) scale(0.85,1)" font-size="5.3" text-anchor="middle" fill="#2e2e2e">170</text>
<text transform="translate(908.80,745.35) scale(0.85,1)" font-size="5.3" text-anchor="middle" fill="#2e2e2e">180</text>
<text transform="translate(908.80,799.91) scale(0.8,1)" font-size="5.3" text-anchor="middle" fill="#2e2e2e">92</text>
<text transform="translate(908.80,809.67) scale(0.8,1)" font-size="5.3" text-anchor="middle" fill="#2e2e2e">181</text>
<text transform="translate(908.80,828.27) scale(0.8,1)" font-size="5.3" text-anchor="middle" fill="#2e2e2e">211</text>
<text transform="translate(908.80,838.50) scale(0.8,1)" font-size="5.3" text-anchor="middle" fill="#2e2e2e">283</text>
<path d="M908.80,793.36 C906.00,793.36 903.60,794.46 900.40,795.40 C897.20,796.34 892.40,797.50 889.60,799.00 C886.80,800.50 884.70,802.70 883.60,804.40 C882.50,806.10 882.60,807.50 883.00,809.20 C883.40,810.90 884.50,813.00 886.00,814.60 C887.50,816.20 889.60,818.00 892.00,818.80 C894.40,819.60 897.60,819.44 900.40,819.40 C903.20,819.36 905.80,818.76 908.80,818.56 C911.80,818.36 915.40,818.46 918.40,818.20 C921.40,817.94 924.60,817.70 926.80,817.00 C929.00,816.30 930.10,815.30 931.60,814.00 C933.10,812.70 935.00,810.70 935.80,809.20 C936.60,807.70 936.70,806.30 936.40,805.00 C936.10,803.70 935.60,802.60 934.00,801.40 C932.40,800.20 929.60,798.80 926.80,797.80 C924.00,796.80 920.20,796.14 917.20,795.40 C914.20,794.66 911.60,793.36 908.80,793.36 Z" fill="none" stroke="#2a5496" stroke-width="1.35" stroke-linejoin="round"/>
<path d="M908.80,793.00 C907.00,793.30 904.50,794.80 902.80,796.00 C901.10,797.20 899.30,798.60 898.60,800.20 C897.90,801.80 898.10,803.50 898.60,805.60 C899.10,807.70 900.30,810.90 901.60,812.80 C902.90,814.70 904.80,815.90 906.40,817.00 C908.00,818.10 909.40,818.86 911.20,819.40 C913.00,819.94 915.00,820.34 917.20,820.24 C919.40,820.14 922.40,819.64 924.40,818.80 C926.40,817.96 928.30,816.70 929.20,815.20 C930.10,813.70 930.20,811.60 929.80,809.80 C929.40,808.00 928.30,806.30 926.80,804.40 C925.30,802.50 923.00,800.10 920.80,798.40 C918.60,796.70 915.60,795.10 913.60,794.20 C911.60,793.30 910.60,792.70 908.80,793.00 Z" fill="none" stroke="#d02820" stroke-width="1.35" stroke-linejoin="round"/>
<circle cx="908.80" cy="929.60" r="47.00" fill="#f8f8f7"/>
<circle cx="908.80" cy="929.60" r="8.93" fill="none" stroke="#7cb267" stroke-width="0.8"/>
<circle cx="908.80" cy="929.60" r="18.80" fill="none" stroke="#7cb267" stroke-width="0.8"/>
<circle cx="908.80" cy="929.60" r="28.20" fill="none" stroke="#7cb267" stroke-width="0.8"/>
<circle cx="908.80" cy="929.60" r="37.60" fill="none" stroke="#7cb267" stroke-width="0.8"/>
<circle cx="908.80" cy="929.60" r="47.00" fill="none" stroke="#7cb267" stroke-width="0.8"/>
<line x1="910.35" y1="938.39" x2="916.96" y2="975.89" stroke="#7cb267" stroke-width="0.8"/>
<line x1="911.85" y1="937.99" x2="924.87" y2="973.77" stroke="#7cb267" stroke-width="0.8"/>
<line x1="913.26" y1="937.33" x2="932.30" y2="970.30" stroke="#7cb267" stroke-width="0.8"/>
<line x1="914.54" y1="936.44" x2="939.01" y2="965.60" stroke="#7cb267" stroke-width="0.8"/>
<line x1="915.64" y1="935.34" x2="944.80" y2="959.81" stroke="#7cb267" stroke-width="0.8"/>
<line x1="916.53" y1="934.07" x2="949.50" y2="953.10" stroke="#7cb267" stroke-width="0.8"/>
<line x1="917.19" y1="932.65" x2="952.97" y2="945.67" stroke="#7cb267" stroke-width="0.8"/>
<line x1="917.59" y1="931.15" x2="955.09" y2="937.76" stroke="#7cb267" stroke-width="0.8"/>
<line x1="917.59" y1="928.05" x2="955.09" y2="921.44" stroke="#7cb267" stroke-width="0.8"/>
<line x1="917.19" y1="926.55" x2="952.97" y2="913.53" stroke="#7cb267" stroke-width="0.8"/>
<line x1="916.53" y1="925.13" x2="949.50" y2="906.10" stroke="#7cb267" stroke-width="0.8"/>
<line x1="915.64" y1="923.86" x2="944.80" y2="899.39" stroke="#7cb267" stroke-width="0.8"/>
<line x1="914.54" y1="922.76" x2="939.01" y2="893.60" stroke="#7cb267" stroke-width="0.8"/>
<line x1="913.26" y1="921.87" x2="932.30" y2="888.90" stroke="#7cb267" stroke-width="0.8"/>
<line x1="911.85" y1="921.21" x2="924.87" y2="885.43" stroke="#7cb267" stroke-width="0.8"/>
<line x1="910.35" y1="920.81" x2="916.96" y2="883.31" stroke="#7cb267" stroke-width="0.8"/>
<line x1="907.25" y1="920.81" x2="900.64" y2="883.31" stroke="#7cb267" stroke-width="0.8"/>
<line x1="905.75" y1="921.21" x2="892.73" y2="885.43" stroke="#7cb267" stroke-width="0.8"/>
<line x1="904.33" y1="921.87" x2="885.30" y2="888.90" stroke="#7cb267" stroke-width="0.8"/>
<line x1="903.06" y1="922.76" x2="878.59" y2="893.60" stroke="#7cb267" stroke-width="0.8"/>
<line x1="901.96" y1="923.86" x2="872.80" y2="899.39" stroke="#7cb267" stroke-width="0.8"/>
<line x1="901.07" y1="925.13" x2="868.10" y2="906.10" stroke="#7cb267" stroke-width="0.8"/>
<line x1="900.41" y1="926.55" x2="864.63" y2="913.53" stroke="#7cb267" stroke-width="0.8"/>
<line x1="900.01" y1="928.05" x2="862.51" y2="921.44" stroke="#7cb267" stroke-width="0.8"/>
<line x1="900.01" y1="931.15" x2="862.51" y2="937.76" stroke="#7cb267" stroke-width="0.8"/>
<line x1="900.41" y1="932.65" x2="864.63" y2="945.67" stroke="#7cb267" stroke-width="0.8"/>
<line x1="901.07" y1="934.07" x2="868.10" y2="953.10" stroke="#7cb267" stroke-width="0.8"/>
<line x1="901.96" y1="935.34" x2="872.80" y2="959.81" stroke="#7cb267" stroke-width="0.8"/>
<line x1="903.06" y1="936.44" x2="878.59" y2="965.60" stroke="#7cb267" stroke-width="0.8"/>
<line x1="904.33" y1="937.33" x2="885.30" y2="970.30" stroke="#7cb267" stroke-width="0.8"/>
<line x1="905.75" y1="937.99" x2="892.73" y2="973.77" stroke="#7cb267" stroke-width="0.8"/>
<line x1="907.25" y1="938.39" x2="900.64" y2="975.89" stroke="#7cb267" stroke-width="0.8"/>
<line x1="861.80" y1="929.60" x2="955.80" y2="929.60" stroke="#a2d58a" stroke-width="1.5"/>
<line x1="908.80" y1="882.60" x2="908.80" y2="976.60" stroke="#7cb267" stroke-width="0.9"/>
<text transform="translate(908.80,981.65) scale(0.85,1)" font-size="5.3" text-anchor="middle" fill="#2e2e2e">0</text>
<text transform="translate(900.04,981.05) scale(0.85,1)" font-size="5.3" text-anchor="middle" fill="#2e2e2e">10</text>
<text transform="translate(917.56,981.05) scale(0.85,1)" font-size="5.3" text-anchor="middle" fill="#2e2e2e">10</text>
<text transform="translate(891.50,978.87) scale(0.85,1)" font-size="5.3" text-anchor="middle" fill="#2e2e2e">20</text>
<text transform="translate(926.10,978.87) scale(0.85,1)" font-size="5.3" text-anchor="middle" fill="#2e2e2e">20</text>
<text transform="translate(883.50,975.18) scale(0.85,1)" font-size="5.3" text-anchor="middle" fill="#2e2e2e">30</text>
<text transform="translate(934.10,975.18) scale(0.85,1)" font-size="5.3" text-anchor="middle" fill="#2e2e2e">30</text>
<text transform="translate(876.29,970.10) scale(0.85,1)" font-size="5.3" text-anchor="middle" fill="#2e2e2e">40</text>
<text transform="translate(941.31,970.10) scale(0.85,1)" font-size="5.3" text-anchor="middle" fill="#2e2e2e">40</text>
<text transform="translate(870.13,963.80) scale(0.85,1)" font-size="5.3" text-anchor="middle" fill="#2e2e2e">50</text>
<text transform="translate(947.47,963.80) scale(0.85,1)" font-size="5.3" text-anchor="middle" fill="#2e2e2e">50</text>
<text transform="translate(865.22,956.51) scale(0.85,1)" font-size="5.3" text-anchor="middle" fill="#2e2e2e">60</text>
<text transform="translate(952.38,956.51) scale(0.85,1)" font-size="5.3" text-anchor="middle" fill="#2e2e2e">60</text>
<text transform="translate(861.71,948.49) scale(0.85,1)" font-size="5.3" text-anchor="middle" fill="#2e2e2e">70</text>
<text transform="translate(955.89,948.49) scale(0.85,1)" font-size="5.3" text-anchor="middle" fill="#2e2e2e">70</text>
<text transform="translate(859.72,940.00) scale(0.85,1)" font-size="5.3" text-anchor="middle" fill="#2e2e2e">80</text>
<text transform="translate(957.88,940.00) scale(0.85,1)" font-size="5.3" text-anchor="middle" fill="#2e2e2e">80</text>
<text transform="translate(859.27,931.35) scale(0.85,1)" font-size="5.3" text-anchor="middle" fill="#2e2e2e">90</text>
<text transform="translate(958.33,931.35) scale(0.85,1)" font-size="5.3" text-anchor="middle" fill="#2e2e2e">90</text>
<text transform="translate(859.17,922.60) scale(0.85,1)" font-size="5.3" text-anchor="middle" fill="#2e2e2e">100</text>
<text transform="translate(958.43,922.60) scale(0.85,1)" font-size="5.3" text-anchor="middle" fill="#2e2e2e">100</text>
<text transform="translate(861.22,914.03) scale(0.85,1)" font-size="5.3" text-anchor="middle" fill="#2e2e2e">110</text>
<text transform="translate(956.38,914.03) scale(0.85,1)" font-size="5.3" text-anchor="middle" fill="#2e2e2e">110</text>
<text transform="translate(864.79,905.94) scale(0.85,1)" font-size="5.3" text-anchor="middle" fill="#2e2e2e">120</text>
<text transform="translate(952.81,905.94) scale(0.85,1)" font-size="5.3" text-anchor="middle" fill="#2e2e2e">120</text>
<text transform="translate(869.80,898.62) scale(0.85,1)" font-size="5.3" text-anchor="middle" fill="#2e2e2e">130</text>
<text transform="translate(947.80,898.62) scale(0.85,1)" font-size="5.3" text-anchor="middle" fill="#2e2e2e">130</text>
<text transform="translate(876.06,892.33) scale(0.85,1)" font-size="5.3" text-anchor="middle" fill="#2e2e2e">140</text>
<text transform="translate(941.54,892.33) scale(0.85,1)" font-size="5.3" text-anchor="middle" fill="#2e2e2e">140</text>
<text transform="translate(883.35,887.28) scale(0.85,1)" font-size="5.3" text-anchor="middle" fill="#2e2e2e">150</text>
<text transform="translate(934.25,887.28) scale(0.85,1)" font-size="5.3" text-anchor="middle" fill="#2e2e2e">150</text>
<text transform="translate(889.78,884.28) scale(0.85,1)" font-size="5.3" text-anchor="middle" fill="#2e2e2e">160</text>
<text transform="translate(927.82,884.28) scale(0.85,1)" font-size="5.3" text-anchor="middle" fill="#2e2e2e">160</text>
<text transform="translate(897.00,882.18) scale(0.85,1)" font-size="5.3" text-anchor="middle" fill="#2e2e2e">170</text>
<text transform="translate(920.60,882.18) scale(0.85,1)" font-size="5.3" text-anchor="middle" fill="#2e2e2e">170</text>
<text transform="translate(908.80,881.05) scale(0.85,1)" font-size="5.3" text-anchor="middle" fill="#2e2e2e">180</text>
<text transform="translate(908.80,946.05) scale(0.8,1)" font-size="5.3" text-anchor="middle" fill="#2e2e2e">6991</text>
<text transform="translate(908.80,955.45) scale(0.8,1)" font-size="5.3" text-anchor="middle" fill="#2e2e2e">6676</text>
<text transform="translate(908.80,964.85) scale(0.8,1)" font-size="5.3" text-anchor="middle" fill="#2e2e2e">12465</text>
<text transform="translate(908.80,975.19) scale(0.8,1)" font-size="5.3" text-anchor="middle" fill="#2e2e2e">16561</text>
<path d="M908.60,928.89 C911.05,928.89 914.43,928.96 917.00,929.38 C919.57,929.80 921.78,930.66 924.00,931.41 C926.22,932.16 928.61,933.10 930.30,933.86 C931.99,934.62 934.03,935.46 934.15,935.96 C934.27,936.46 932.69,936.73 931.00,936.87 C929.31,937.01 926.33,937.00 924.00,936.80 C921.67,936.60 919.10,936.06 917.00,935.68 C914.90,935.29 912.80,934.71 911.40,934.49 C910.00,934.27 909.53,934.35 908.60,934.35 C907.67,934.35 907.20,934.27 905.80,934.49 C904.40,934.71 902.42,935.29 900.20,935.68 C897.98,936.06 895.24,936.61 892.50,936.80 C889.76,936.99 885.29,936.96 883.75,936.80 C882.21,936.64 882.38,936.36 883.26,935.82 C884.13,935.28 886.88,934.34 889.00,933.58 C891.12,932.82 893.78,931.97 896.00,931.27 C898.22,930.57 900.20,929.78 902.30,929.38 C904.40,928.98 906.15,928.89 908.60,928.89 Z" fill="none" stroke="#2a5496" stroke-width="1.35" stroke-linejoin="round"/>
<path d="M908.60,928.26 C907.72,928.38 906.73,930.42 906.15,931.20 C905.57,931.98 905.04,932.54 905.10,932.95 C905.16,933.36 905.86,933.53 906.50,933.65 C907.14,933.77 908.19,933.30 908.95,933.65 C909.71,934.00 910.06,934.66 911.05,935.75 C912.04,936.83 913.85,939.34 914.90,940.16 C915.95,940.98 916.86,940.86 917.35,940.65 C917.84,940.44 918.31,939.95 917.84,938.90 C917.37,937.85 915.62,935.75 914.55,934.35 C913.48,932.95 912.39,931.51 911.40,930.50 C910.41,929.48 909.47,928.14 908.60,928.26 Z" fill="none" stroke="#d02820" stroke-width="1.35" stroke-linejoin="round"/></svg>
<div class="t" style="left:18.60px;top:17.00px;font-size:12px;font-weight:400;color:#333131;letter-spacing:-0.246px">LED Chip Brand</div>
<div class="t" style="left:19.10px;top:45.10px;font-size:12px;font-weight:400;color:#333131;letter-spacing:-0.133px">LED Chip Type</div>
<div class="t" style="left:20.30px;top:71.70px;font-size:12px;font-weight:400;color:#333131;letter-spacing:-0.137px">Luminous Efficacy</div>
<div class="t" style="left:19.60px;top:98.60px;font-size:12px;font-weight:400;color:#333131;letter-spacing:-0.704px">Color Rendering Index (RA)</div>
<div class="t" style="left:20.40px;top:128.00px;font-size:12px;font-weight:400;color:#333131;letter-spacing:-0.700px">Color Temperature</div>
<div class="t" style="left:19.40px;top:156.00px;font-size:12px;font-weight:400;color:#333131;letter-spacing:-0.111px">Beam Angle</div>
<div class="t" style="left:19.40px;top:182.60px;font-size:12px;font-weight:400;color:#333131;letter-spacing:-0.092px">Number Of Lens</div>
<div class="t" style="left:19.40px;top:208.60px;font-size:12px;font-weight:400;color:#333131;letter-spacing:-0.150px">Life Time</div>
<div class="t" style="left:18.60px;top:282.00px;font-size:12px;font-weight:400;color:#333131;letter-spacing:0.033px">Power A</div>
<div class="t" style="left:18.60px;top:309.00px;font-size:12px;font-weight:400;color:#333131;letter-spacing:0.033px">Power B</div>
<div class="t" style="left:18.60px;top:335.60px;font-size:12px;font-weight:400;color:#333131;letter-spacing:0.000px">Power C</div>
<div class="t" style="left:18.60px;top:361.60px;font-size:12px;font-weight:400;color:#333131;letter-spacing:-0.100px">Power D</div>
<div class="t" style="left:20.40px;top:388.00px;font-size:12px;font-weight:400;color:#333131;letter-spacing:0.000px">Voltage</div>
<div class="t" style="left:18.60px;top:414.00px;font-size:12px;font-weight:400;color:#333131;letter-spacing:-0.100px">Frequency</div>
<div class="t" style="left:19.00px;top:443.00px;font-size:12px;font-weight:400;color:#333131;letter-spacing:-0.125px">Electrical Security Class</div>
<div class="t" style="left:20.00px;top:473.00px;font-size:12px;font-weight:400;color:#333131;letter-spacing:-0.067px">Work Temperature</div>
<div class="t" style="left:19.40px;top:500.00px;font-size:12px;font-weight:400;color:#333131;letter-spacing:-0.029px">Humidity</div>
<div class="t" style="left:19.00px;top:528.00px;font-size:12px;font-weight:400;color:#333131;letter-spacing:-0.114px">IP Grade</div>
<div class="t" style="left:20.00px;top:556.00px;font-size:12px;font-weight:400;color:#333131;letter-spacing:0.029px">IK Grade</div>
<div class="t" style="left:20.00px;top:584.60px;font-size:12px;font-weight:400;color:#333131;letter-spacing:-0.100px">SPD</div>
<div class="t" style="left:20.40px;top:659.60px;font-size:12px;font-weight:400;color:#333131;letter-spacing:-0.050px">Brand</div>
<div class="t" style="left:20.40px;top:700.00px;font-size:12px;font-weight:400;color:#333131;letter-spacing:-0.109px">Power Factor</div>
<div class="t" style="left:19.60px;top:724.40px;font-size:12px;font-weight:400;color:#333131;letter-spacing:-0.080px">Performance</div>
<div class="t" style="left:21.00px;top:751.00px;font-size:12px;font-weight:400;color:#333131;letter-spacing:-0.143px">IP Grade</div>
<div class="t" style="left:20.80px;top:778.00px;font-size:12px;font-weight:400;color:#333131;letter-spacing:-0.300px">THD</div>
<div class="t" style="left:20.00px;top:845.60px;font-size:11px;font-weight:400;color:#333131;letter-spacing:-0.125px">Material Of Shell</div>
<div class="t" style="left:20.40px;top:873.00px;font-size:11px;font-weight:400;color:#333131;letter-spacing:-0.080px">Material Of Lens</div>
<div class="t" style="left:21.00px;top:897.00px;font-size:11px;font-weight:400;color:#333131;letter-spacing:-0.167px">Color Of Lens</div>
<div class="t" style="left:21.00px;top:921.00px;font-size:11px;font-weight:400;color:#333131;letter-spacing:-0.169px">Color Of Shell</div>
<div class="t" style="left:21.60px;top:963.00px;font-size:11px;font-weight:400;color:#333131;letter-spacing:-0.106px">Pole diameter (mm)</div>
<div class="t" style="left:276.00px;top:17.70px;font-size:12px;font-weight:400;color:#333131;letter-spacing:-0.241px">Lumileds | Cree | Epistar plus</div>
<div class="t" style="left:276.00px;top:44.80px;font-size:12px;font-weight:400;color:#333131;letter-spacing:-0.176px">SMD2835 | SMD3030 |SMD5050</div>
<div class="t" style="left:277.70px;top:71.60px;font-size:12px;font-weight:400;color:#333131;letter-spacing:-0.217px">200LM/W</div>
<div class="t" style="left:277.00px;top:99.00px;font-size:12px;font-weight:400;color:#333131;letter-spacing:-0.111px">&gt; 70  |  80  |   90</div>
<div class="t" style="left:277.00px;top:127.70px;font-size:12px;font-weight:400;color:#333131;letter-spacing:-0.320px">2200K-6500K</div>
<div class="t" style="left:278.80px;top:155.90px;font-size:12px;font-weight:400;color:#333131;letter-spacing:-0.282px">Type I  | Type II  | Type III</div>
<div class="t" style="left:278.80px;top:183.80px;font-size:12px;font-weight:400;color:#333131;letter-spacing:-0.246px">A:4 Pcs  |  B:6 Pcs  |  C:9 Pcs | D:12 Pcs</div>
<div class="t" style="left:277.80px;top:208.40px;font-size:12px;font-weight:400;color:#333131;letter-spacing:-0.318px">100000 Hours</div>
<div class="t" style="left:277.40px;top:282.70px;font-size:12px;font-weight:400;color:#333131;letter-spacing:-0.050px">10W-50W</div>
<div class="t" style="left:278.40px;top:309.50px;font-size:12px;font-weight:400;color:#333131;letter-spacing:-0.217px">50W-80W</div>
<div class="t" style="left:278.40px;top:336.60px;font-size:12px;font-weight:400;color:#333131;letter-spacing:-0.171px">90W-120W</div>
<div class="t" style="left:277.40px;top:362.30px;font-size:12px;font-weight:400;color:#333131;letter-spacing:-0.225px">120W-150W</div>
<div class="t" style="left:278.80px;top:387.70px;font-size:12px;font-weight:400;color:#333131;letter-spacing:-0.825px">AC85-305V</div>
<div class="t" style="left:278.80px;top:416.70px;font-size:12px;font-weight:400;color:#333131;letter-spacing:-0.333px">50/60Hz</div>
<div class="t" style="left:278.80px;top:443.80px;font-size:12px;font-weight:400;color:#333131;letter-spacing:-0.126px">Class I  |  Class II</div>
<div class="t" style="left:276.70px;top:472.40px;font-size:12px;font-weight:400;color:#333131;letter-spacing:-0.012px">(-30 °C to 50 °C)</div>
<div class="t" style="left:278.90px;top:499.90px;font-size:12px;font-weight:400;color:#333131;letter-spacing:-0.100px">10 % to 90%</div>
<div class="t" style="left:277.80px;top:526.70px;font-size:12px;font-weight:400;color:#333131;letter-spacing:-0.767px">IP66</div>
<div class="t" style="left:278.90px;top:554.90px;font-size:12px;font-weight:400;color:#333131;letter-spacing:-0.629px">IK08 | IK09 | IK10</div>
<div class="t" style="left:277.80px;top:583.50px;font-size:12px;font-weight:400;color:#333131;letter-spacing:0.048px">10KV | 20KV   (Optional)</div>
<div class="t" style="left:276.70px;top:659.90px;font-size:12px;font-weight:400;color:#333131;letter-spacing:-0.124px">Philips | Inventronics | Meanwell |</div>
<div class="t" style="left:276.70px;top:673.50px;font-size:12px;font-weight:400;color:#333131;letter-spacing:-0.179px">Sosen | Moso | OEM |</div>
<div class="t" style="left:276.70px;top:700.60px;font-size:12px;font-weight:400;color:#333131;letter-spacing:-0.250px">＞0.95</div>
<div class="t" style="left:275.80px;top:725.20px;font-size:12px;font-weight:400;color:#333131;letter-spacing:-0.425px">＞ 90%</div>
<div class="t" style="left:276.00px;top:750.50px;font-size:12px;font-weight:400;color:#333131;letter-spacing:-0.073px">IP20 to IP67</div>
<div class="t" style="left:276.70px;top:777.60px;font-size:12px;font-weight:400;color:#333131;letter-spacing:-0.275px">＜ 12%</div>
<div class="t" style="left:256.20px;top:845.20px;font-size:11px;font-weight:400;color:#333131;letter-spacing:-0.144px">Aluminum (ADC12) + Tempered Glass</div>
<div class="t" style="left:255.20px;top:873.10px;font-size:11px;font-weight:400;color:#333131;letter-spacing:-0.160px">PMMA  |  PC</div>
<div class="t" style="left:256.20px;top:896.90px;font-size:11px;font-weight:400;color:#333131;letter-spacing:-0.161px">Transparent / Amber</div>
<div class="t" style="left:254.50px;top:920.40px;font-size:11px;font-weight:400;color:#333131;letter-spacing:-0.183px">RAL 9002  |   RAL7040 etc</div>
<div class="t" style="left:254.50px;top:934.70px;font-size:11px;font-weight:400;color:#333131;letter-spacing:-0.026px">(customized by customer)</div>
<div class="t" style="left:254.80px;top:961.70px;font-size:12px;font-weight:400;color:#333131;letter-spacing:-0.900px">60</div>
<div class="t" style="left:31.80px;top:244.80px;font-size:20px;font-weight:700;color:#231815;letter-spacing:0.142px">Electrical Parameters</div>
<div class="t" style="left:30.40px;top:620.80px;font-size:20px;font-weight:700;color:#231815;letter-spacing:-0.040px">Driver</div>
<div class="t" style="left:30.60px;top:811.30px;font-size:20px;font-weight:700;color:#231815;letter-spacing:0.122px">Materials and Properties</div>
<div class="t" style="left:534.80px;top:16.10px;font-size:20px;font-weight:700;color:#231815;letter-spacing:0.033px">Tested according to</div>
<div class="t" style="left:536.40px;top:560.10px;font-size:20px;font-weight:700;color:#231815;letter-spacing:0.122px">Typical Photometric Features</div>
<div class="t" style="left:518.40px;top:62.10px;font-size:14px;font-weight:400;color:#333131;letter-spacing:-0.400px">ENEC</div>
<div class="t" style="left:519.40px;top:141.10px;font-size:14px;font-weight:400;color:#333131;letter-spacing:-1.100px">CB</div>
<div class="t" style="left:519.40px;top:268.80px;font-size:14px;font-weight:400;color:#333131;letter-spacing:-0.480px">CE-LVD</div>
<div class="t" style="left:519.40px;top:356.20px;font-size:14px;font-weight:400;color:#333131;letter-spacing:-0.500px">CE-EMC</div>
<div class="t" style="left:518.40px;top:449.00px;font-size:14px;font-weight:400;color:#333131;letter-spacing:-0.533px">ROHS</div>
<div class="t" style="left:695.75px;top:62.00px;font-size:14px;font-weight:400;color:#333131;letter-spacing:-0.578px">EN 60598-2-3:2003+A1:2011 used in</div>
<div class="t" style="left:696.75px;top:79.00px;font-size:14px;font-weight:400;color:#333131;letter-spacing:-0.576px">conjunction with EN IEC 60598-1:2021,</div>
<div class="t" style="left:695.75px;top:95.75px;font-size:14px;font-weight:400;color:#333131;letter-spacing:-0.583px">EN 62262:2002</div>
<div class="t" style="left:695.75px;top:141.25px;font-size:14px;font-weight:400;color:#333131;letter-spacing:-0.575px">IEC 60598-2-3:2002+A1</div>
<div class="t" style="left:695.75px;top:157.50px;font-size:14px;font-weight:400;color:#333131;letter-spacing:-0.550px">IEC 60598-1:2020</div>
<div class="t" style="left:695.75px;top:192.00px;font-size:14px;font-weight:400;color:#333131;letter-spacing:-0.599px">IEC 60598-2-3:2002, IEC 60598-2-3:2002/</div>
<div class="t" style="left:696.75px;top:209.00px;font-size:14px;font-weight:400;color:#333131;letter-spacing:-0.588px">AMD1:2011 used in conjunction with IEC</div>
<div class="t" style="left:696.75px;top:225.75px;font-size:14px;font-weight:400;color:#333131;letter-spacing:-0.705px">60598-1:2020</div>
<div class="t" style="left:695.75px;top:269.00px;font-size:14px;font-weight:400;color:#333131;letter-spacing:-0.558px">EN 60598-2-3:2003 + A1:2011</div>
<div class="t" style="left:695.75px;top:286.00px;font-size:14px;font-weight:400;color:#333131;letter-spacing:-0.569px">EN IEC 60598-1:2021</div>
<div class="t" style="left:695.75px;top:304.00px;font-size:14px;font-weight:400;color:#333131;letter-spacing:-0.542px">EN 62471:2008</div>
<div class="t" style="left:695.75px;top:321.00px;font-size:14px;font-weight:400;color:#333131;letter-spacing:-0.542px">EN 62493:2015</div>
<div class="t" style="left:695.75px;top:356.25px;font-size:14px;font-weight:400;color:#333131;letter-spacing:-0.550px">EN 55015:2013+A1:2015</div>
<div class="t" style="left:695.75px;top:372.75px;font-size:14px;font-weight:400;color:#333131;letter-spacing:-0.542px">EN 61547:2009</div>
<div class="t" style="left:695.75px;top:389.75px;font-size:14px;font-weight:400;color:#333131;letter-spacing:-0.600px">EN IEC 61000-3-2:2019</div>
<div class="t" style="left:695.75px;top:408.00px;font-size:14px;font-weight:400;color:#333131;letter-spacing:-0.562px">EN 61000-3-3:2013+A1:2019</div>
<div class="t" style="left:695.75px;top:449.00px;font-size:14px;font-weight:400;color:#333131;letter-spacing:-0.561px">IEC62321-1:2013, IEC62321-3-1:2013</div>
<div class="t" style="left:695.75px;top:466.00px;font-size:14px;font-weight:400;color:#333131;letter-spacing:-0.552px">IEC62321-4:2013/AMD1:2017</div>
<div class="t" style="left:695.75px;top:483.00px;font-size:14px;font-weight:400;color:#333131;letter-spacing:-0.556px">IEC62321-5:2013, IEC62321-6:2015</div>
<div class="t" style="left:695.75px;top:500.00px;font-size:14px;font-weight:400;color:#333131;letter-spacing:-0.579px">IEC62321-7-1:2015, IEC62321-7-2:2017</div>
<div class="t" style="left:695.75px;top:517.00px;font-size:14px;font-weight:400;color:#333131;letter-spacing:-0.589px">IEC62321-8:2017</div>
<div class="t" style="left:522.20px;top:613.50px;font-size:14px;font-weight:500;color:#dd7a34;letter-spacing:-0.183px">160*70°</div>
<div class="t" style="left:782.50px;top:613.80px;font-size:14px;font-weight:500;color:#dd7a34;letter-spacing:-0.250px">150*80°</div>
<div class="t" style="left:523.00px;top:743.50px;font-size:14px;font-weight:500;color:#dd7a34;letter-spacing:-0.233px">160*90°</div>
<div class="t" style="left:781.80px;top:743.00px;font-size:14px;font-weight:500;color:#dd7a34;letter-spacing:-0.200px">150*100°</div>
<div class="t" style="left:524.30px;top:881.50px;font-size:14px;font-weight:500;color:#dd7a34;letter-spacing:-0.217px">165*96°</div>
<div class="t" style="left:783.80px;top:881.30px;font-size:14px;font-weight:500;color:#dd7a34;letter-spacing:-0.317px">160*65°</div>
<div class="t" style="left:441.8px;top:51.3px;font-size:6px;font-weight:700;color:#333;font-family:'Noto Sans CJK SC',sans-serif">等</div>
</div>
</div></body></html>
